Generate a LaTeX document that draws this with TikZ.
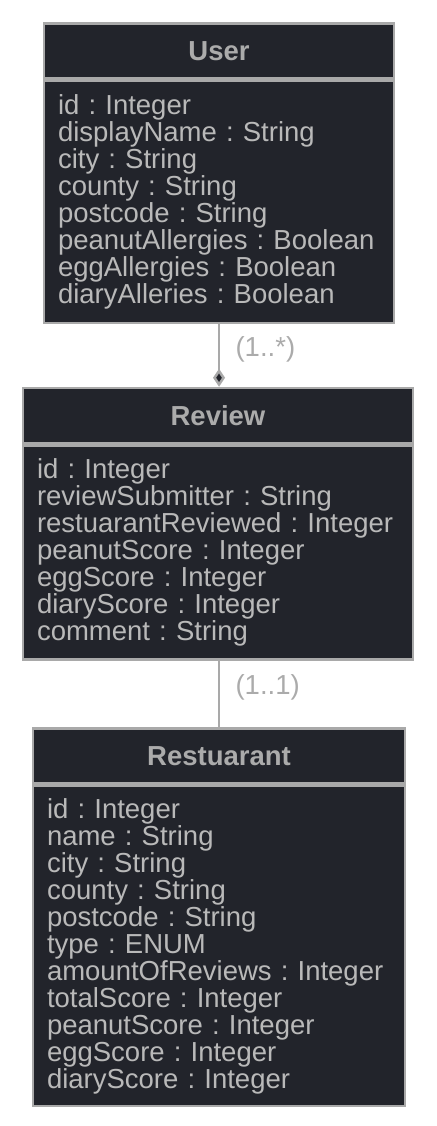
\documentclass[tikz,border=0pt]{standalone}
\usepackage{fontspec}
\setmainfont{Liberation Sans}
\usetikzlibrary{arrows.meta}
\definecolor{clsFill}{HTML}{22242B}
\definecolor{clsLine}{HTML}{A9A9A9}
\definecolor{clsText}{HTML}{B9B9B9}
\definecolor{clsHead}{HTML}{ABABAB}
\frenchspacing

\begin{document}
\begin{tikzpicture}[x=1pt, y=-1pt,
      head/.style={draw=clsLine, line width=2.5pt, fill=clsFill, text=clsHead,
                   minimum width=#1, minimum height=55pt, inner sep=0pt,
                   font=\fontsize{27.5}{27}\selectfont\bfseries},
      attrs/.style={draw=clsLine, line width=2.5pt, fill=clsFill, text=clsText,
                    anchor=north, align=left, text width=#1-28pt, inner xsep=14pt,
                    inner ysep=0pt, font=\fontsize{27.5}{27}\selectfont},
      link/.style={draw=clsLine, line width=2.5pt},
      mult/.style={anchor=west, xshift=12pt, text=clsHead,
                   font=\fontsize{27.5}{27}\selectfont}]
    \useasboundingbox (0,0) rectangle (436,1126);
    % User
    \node[head=350pt] (userh) at (219,51) {User};
    \node[attrs=350pt, minimum height=242pt] (userb) at (userh.south)
      {id : Integer\\displayName : String\\city : String\\county : String\\
       postcode : String\\peanutAllergies : Boolean\\eggAllergies : Boolean\\
       diaryAlleries : Boolean};
    % Review
    \node[head=390pt] (reviewh) at (218,415.5) {Review};
    \node[attrs=390pt, minimum height=214pt] (reviewb) at (reviewh.south)
      {id : Integer\\reviewSubmitter : String\\restuarantReviewed : Integer\\
       peanutScore : Integer\\eggScore : Integer\\diaryScore : Integer\\
       comment : String};
    % Restuarant
    \node[head=372pt] (resth) at (219,756) {Restuarant};
    \node[attrs=372pt, minimum height=320pt] (restb) at (resth.south)
      {id : Integer\\name : String\\city : String\\county : String\\
       postcode : String\\type : ENUM\\amountOfReviews : Integer\\
       totalScore : Integer\\peanutScore : Integer\\eggScore : Integer\\
       diaryScore : Integer};
    % associations
    \draw[link, -{Diamond[length=18pt, width=12pt, fill=clsFill]}]
      (userb.south) -- node[mult, pos=0.4] {(1..*)} (userb.south |- reviewh.north);
    \draw[link] (resth.north |- reviewb.south) -- node[mult, pos=0.4] {(1..1)}
      (resth.north);
  \end{tikzpicture}
\end{document}
